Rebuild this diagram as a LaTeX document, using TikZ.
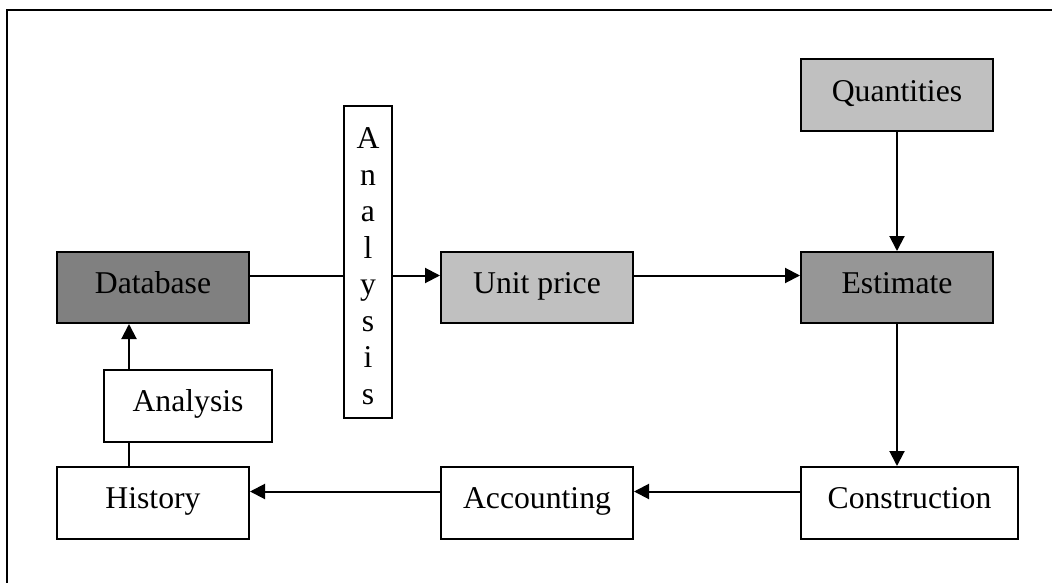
\documentclass[tikz,border=0pt]{standalone}
\usepackage{fontspec}
\setmainfont{Liberation Serif}
\usetikzlibrary{arrows.meta}
\definecolor{darkfill}{HTML}{808080}
\definecolor{midfill}{HTML}{969696}
\definecolor{lightfill}{HTML}{C0C0C0}
\begin{document}
\begin{tikzpicture}[x=1pt,y=-1pt,
  box/.style={draw=black,line width=2pt,rectangle,inner sep=0pt,
    minimum width=192pt,minimum height=71pt,
    font=\fontsize{31.7}{36.5}\selectfont,
    text height=21.6pt,text depth=10pt},
  vbox/.style={draw=black,line width=2pt,rectangle,inner sep=0pt,
    minimum width=48pt,minimum height=312pt},
  link/.style={line width=2pt},
  flow/.style={line width=2pt,-{Triangle[width=15pt,length=15pt]}}]
  \useasboundingbox (0,0) rectangle (1052,583);
  % frame
  \draw[line width=2pt] (7,583) -- (7,10) -- (1052,10);

  % boxes
  \node[box,fill=darkfill] (db) at (153,287.5) {Database};
  \node[vbox,fill=white] (vert) at (368,262) {};
  \node[font=\fontsize{31.7}{36.5}\selectfont,align=center,inner sep=0pt]
    (vertlabel) at (368,266) {A\\n\\a\\l\\y\\s\\i\\s};
  \node[box,fill=lightfill] (unit) at (537,287.5) {Unit price};
  \node[box,fill=midfill] (est) at (897,287.5) {Estimate};
  \node[box,fill=lightfill,minimum height=72pt] (quant) at (897,95.5) {Quantities};
  \node[box,fill=white,minimum width=168pt,minimum height=72pt] (ana) at (188,406) {Analysis};
  \node[box,fill=white,minimum height=72pt] (hist) at (153,503) {History};
  \node[box,fill=white,minimum height=72pt] (acct) at (537,503) {Accounting};
  \node[box,fill=white,minimum width=217pt,minimum height=72pt] (cons) at (909.5,503) {Construction};

  % connector rows and column
  \coordinate (rowT) at (0,275.5);
  \coordinate (rowB) at (0,491.5);
  \coordinate (colA) at (129,0);

  % connectors
  \draw[link] (db.east |- rowT) -- (vert.west |- rowT);
  \draw[flow] (vert.east |- rowT) -- (unit.west |- rowT);
  \draw[flow] (unit.east |- rowT) -- (est.west |- rowT);
  \draw[flow] (quant.south) -- (est.north);
  \draw[flow] (est.south) -- (est.south |- cons.north);
  \draw[flow] (cons.west |- rowB) -- (acct.east |- rowB);
  \draw[flow] (acct.west |- rowB) -- (hist.east |- rowB);
  \draw[link] (hist.north -| colA) -- (ana.south -| colA);
  \draw[flow] (ana.north -| colA) -- (db.south -| colA);
\end{tikzpicture}
\end{document}
